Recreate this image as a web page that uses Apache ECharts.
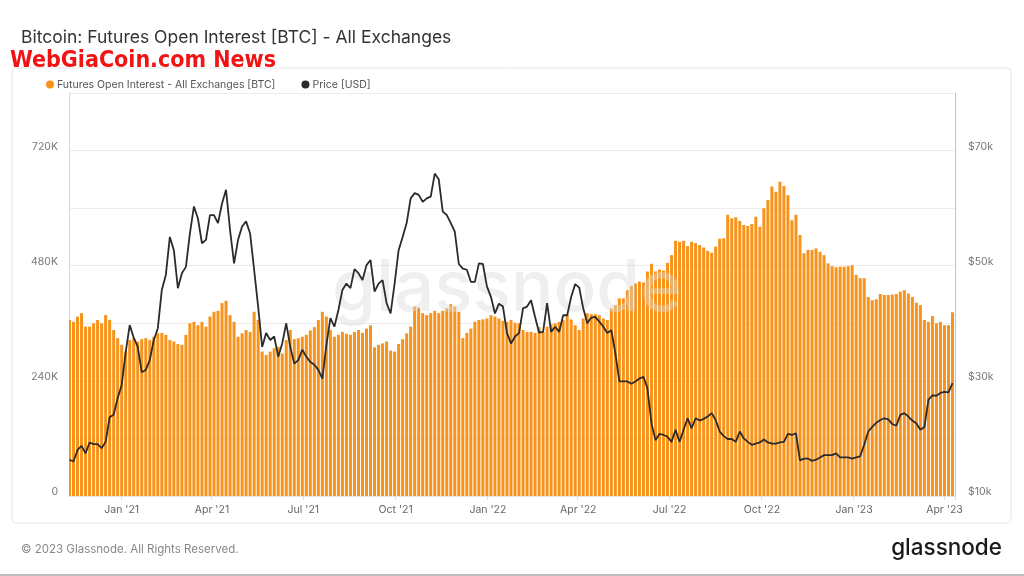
<!DOCTYPE html>
<html>
<head>
<meta charset="utf-8">
<script src="https://cdn.jsdelivr.net/npm/echarts@6/dist/echarts.min.js"></script>
<style>
  html, body { margin: 0; padding: 0; background: #ffffff; }
  #chart { width: 1024px; height: 576px; }
</style>
</head>
<body>
<div id="chart"></div>
<script>
// ---- Data ----
const START_DATE = '2020-11-10';
const END_DATE = '2023-04-11';
const SAMPLE_STEP_DAYS = 4;

// Futures open interest, thousands of BTC, one value every 4 days from START_DATE
const openInterestK = [
  367, 363, 374, 381, 353, 353, 360, 367, 360, 377,
  367, 346, 329, 315, 301, 325, 329, 322, 327, 329,
  325, 332, 339, 340, 336, 325, 322, 317, 315, 336,
  360, 363, 356, 363, 353, 374, 384, 386, 402, 407,
  377, 363, 332, 339, 346, 342, 384, 367, 301, 294,
  301, 308, 311, 297, 325, 346, 327, 329, 332, 336,
  345, 352, 367, 384, 374, 346, 332, 336, 342, 338,
  336, 342, 346, 340, 349, 356, 310, 315, 318, 322,
  303, 301, 317, 327, 339, 353, 395, 393, 381, 377,
  381, 386, 381, 386, 391, 400, 395, 384, 329, 340,
  349, 363, 367, 368, 370, 377, 374, 370, 365, 363,
  367, 361, 360, 346, 342, 342, 340, 352, 342, 353,
  358, 360, 363, 367, 379, 368, 356, 346, 370, 381,
  379, 379, 377, 370, 367, 391, 398, 412, 412, 429,
  438, 443, 447, 445, 468, 484, 468, 472, 470, 486,
  502, 532, 530, 532, 521, 530, 527, 523, 518, 511,
  507, 520, 536, 537, 586, 579, 581, 573, 565, 563,
  567, 582, 561, 600, 617, 645, 634, 655, 646, 627,
  575, 586, 544, 506, 513, 513, 516, 509, 502, 485,
  479, 477, 478, 478, 479, 481, 461, 454, 454, 415,
  408, 410, 421, 419, 419, 420, 421, 426, 429, 422,
  415, 403, 398, 367, 363, 375, 360, 363, 356, 356, 383
];

// BTC price, thousands of USD, same dates
const priceK = [
  16.3, 16.0, 18.0, 18.7, 17.4, 19.3, 19.0, 19.0, 18.3, 19.4,
  23.7, 24.1, 27.0, 29.3, 35.0, 39.7, 37.5, 35.9, 31.5, 31.9,
  33.6, 37.1, 39.1, 45.8, 48.4, 55.0, 52.7, 46.1, 48.7, 49.8,
  55.6, 60.3, 58.2, 53.9, 54.5, 58.8, 58.8, 57.4, 60.8, 63.2,
  56.2, 50.4, 54.5, 56.8, 57.7, 55.6, 49.3, 42.9, 35.9, 38.3,
  37.1, 37.7, 34.2, 36.5, 40.0, 35.9, 33.0, 33.6, 35.4, 34.2,
  33.3, 32.8, 31.9, 30.4, 36.2, 40.9, 39.4, 42.3, 45.8, 46.9,
  46.1, 49.4, 48.7, 47.5, 50.1, 51.0, 45.5, 46.9, 47.5, 43.5,
  41.7, 46.9, 52.7, 55.0, 57.4, 61.7, 62.6, 62.3, 61.1, 61.7,
  62.0, 66.0, 65.0, 59.4, 58.8, 57.4, 55.9, 50.3, 49.5, 49.3,
  47.2, 47.2, 50.4, 50.3, 46.4, 44.6, 41.7, 43.4, 42.9, 38.3,
  36.5, 37.7, 38.3, 42.6, 42.9, 44.0, 41.1, 38.4, 38.5, 43.5,
  38.5, 39.4, 38.5, 41.4, 41.4, 44.6, 46.8, 46.2, 42.6, 40.0,
  41.0, 41.1, 40.3, 39.4, 38.3, 38.8, 34.8, 29.9, 29.9, 29.9,
  29.5, 29.9, 30.4, 30.7, 28.7, 22.6, 19.7, 20.8, 20.6, 20.3,
  19.4, 21.5, 19.4, 21.5, 23.5, 21.8, 23.5, 23.1, 23.4, 23.8,
  24.4, 23.2, 21.2, 20.4, 19.9, 19.9, 19.4, 21.2, 20.0, 19.4,
  18.9, 19.1, 19.3, 19.8, 19.3, 19.1, 19.1, 19.3, 19.4, 20.8,
  20.6, 20.9, 16.2, 16.5, 16.5, 16.1, 16.3, 16.7, 17.1, 17.1,
  17.1, 17.4, 16.7, 16.7, 16.7, 16.5, 16.7, 16.9, 18.9, 21.2,
  22.0, 22.7, 23.2, 23.5, 23.3, 22.5, 22.2, 24.1, 24.4, 23.8,
  23.1, 22.6, 21.5, 22.0, 26.7, 27.5, 27.4, 27.9, 28.1, 28.0, 29.6
];

const MONTH_NAMES = ['Jan','Feb','Mar','Apr','May','Jun','Jul','Aug','Sep','Oct','Nov','Dec'];
const TICK_MONTHS = ['01','04','07','10'];
const LEFT_TICKS_SHOWN = [0, 240, 480, 720];
const RIGHT_TICKS_SHOWN = [10, 30, 50, 70];

// ---- Build axis categories (every day) and sample dates ----
const DAY = 86400000;
function iso(t) { return new Date(t).toISOString().slice(0, 10); }
const t0 = Date.parse(START_DATE + 'T00:00:00Z');
const t1 = Date.parse(END_DATE + 'T00:00:00Z');
const days = [];
for (let t = t0; t <= t1; t += DAY) days.push(iso(t));
const sampleDates = openInterestK.map((_, i) => iso(t0 + i * SAMPLE_STEP_DAYS * DAY));

function isQuarterStart(val) {
  return val.slice(8) === '01' && TICK_MONTHS.indexOf(val.slice(5, 7)) >= 0;
}

const chart = echarts.init(document.getElementById('chart'), null, { renderer: 'canvas' });
const FONT = 'Inter, "Noto Sans", sans-serif';

chart.setOption({
  animation: false,
  backgroundColor: '#ffffff',
  textStyle: { fontFamily: FONT },
  title: {
    text: 'Bitcoin: Futures Open Interest [BTC] - All Exchanges',
    left: 16, top: 24,
    textStyle: { fontFamily: FONT, fontSize: 17.5, fontWeight: 'normal', color: '#333333' }
  },
  legend: {
    left: 41, top: 74,
    icon: 'circle', itemWidth: 8, itemHeight: 8, itemGap: 26,
    textStyle: { fontFamily: FONT, fontSize: 10.5, color: '#555555', padding: [0, 0, 0, -2] },
    data: ['Futures Open Interest - All Exchanges [BTC]', 'Price [USD]']
  },
  grid: { left: 69, right: 69, top: 93, bottom: 80, containLabel: false },
  xAxis: {
    type: 'category',
    data: days,
    boundaryGap: true,
    axisLine: { show: true, lineStyle: { color: '#e6e6e6' } },
    axisTick: { show: true, interval: (i, v) => isQuarterStart(v), length: 4, lineStyle: { color: '#dddddd' } },
    axisLabel: {
      interval: (i, v) => isQuarterStart(v),
      formatter: v => MONTH_NAMES[parseInt(v.slice(5, 7), 10) - 1] + " '" + v.slice(2, 4),
      color: '#666666', fontSize: 10.5, fontFamily: FONT, margin: 8
    },
    splitLine: { show: false }
  },
  yAxis: [
    {
      type: 'value', min: 0, max: 840, interval: 120, position: 'left',
      axisLine: { show: true, lineStyle: { color: '#f8d3a6' } },
      axisTick: { show: false },
      axisLabel: {
        formatter: v => LEFT_TICKS_SHOWN.indexOf(v) >= 0 ? (v === 0 ? '0' : v + 'K') : '',
        color: '#777777', fontSize: 10.5, fontFamily: FONT, margin: 11,
        verticalAlign: 'bottom', lineHeight: 8
      },
      splitLine: { show: true, lineStyle: { color: '#ececec', width: 1 } }
    },
    {
      type: 'value', min: 10, max: 80, interval: 10, position: 'right',
      axisLine: { show: true, lineStyle: { color: '#c4c4c4' } },
      axisTick: { show: false },
      axisLabel: {
        formatter: v => RIGHT_TICKS_SHOWN.indexOf(v) >= 0 ? '$' + v + 'k' : '',
        color: '#777777', fontSize: 10.5, fontFamily: FONT, margin: 13,
        verticalAlign: 'bottom', lineHeight: 8
      },
      splitLine: { show: false }
    }
  ],
  series: [
    {
      name: 'Futures Open Interest - All Exchanges [BTC]',
      type: 'bar',
      yAxisIndex: 0,
      barWidth: 3,
      itemStyle: { color: '#f7931a' },
      data: sampleDates.map((d, i) => [d, openInterestK[i]]),
      z: 2
    },
    {
      name: 'Price [USD]',
      type: 'line',
      yAxisIndex: 1,
      showSymbol: false,
      symbol: 'none',
      lineStyle: { color: '#2b2b2b', width: 1.8 },
      itemStyle: { color: '#2b2b2b' },
      data: sampleDates.map((d, i) => [d, priceK[i]]),
      z: 4
    }
  ],
  graphic: [
    {
      type: 'rect', z: -10, silent: true,
      shape: { x: 12, y: 68, width: 999, height: 455, r: 4 },
      style: { fill: 'none', stroke: '#e6e6e6', lineWidth: 1 }
    },
    {
      type: 'text', z: 100, silent: true, left: 10, top: 50,
      style: {
        text: 'WebGiaCoin.com News', fill: '#f01414',
        font: 'bold 23px "DejaVu Sans Condensed", "DejaVu Sans", sans-serif'
      }
    },
    {
      type: 'text', z: 3, silent: true, left: 332, top: 254,
      style: {
        text: 'glassnode', fill: 'rgba(220,220,220,0.45)',
        font: '500 71px Inter, sans-serif'
      }
    },
    {
      type: 'text', silent: true, left: 21, top: 544,
      style: { text: '\u00A9 2023 Glassnode. All Rights Reserved.', fill: '#888888', font: '11.5px Inter, sans-serif' }
    },
    {
      type: 'text', silent: true, right: 22, top: 537,
      style: { text: 'glassnode', fill: '#1a1a1a', font: '500 22.5px Inter, sans-serif' }
    },
    {
      type: 'rect', silent: true,
      shape: { x: 0, y: 574, width: 1024, height: 2 },
      style: { fill: '#bdbdbd' }
    }
  ]
});
</script>
</body>
</html>
